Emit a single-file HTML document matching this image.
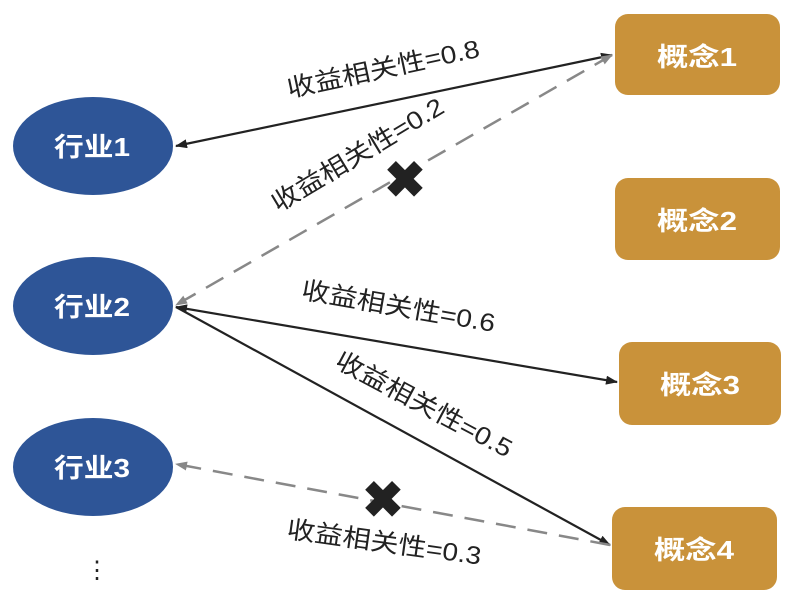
<!DOCTYPE html>
<html><head><meta charset="utf-8"><style>
body{margin:0;background:#fff;}
svg text{font-family:"Liberation Sans","Noto Sans CJK SC",sans-serif;}
</style></head><body>
<svg width="789" height="597" viewBox="0 0 789 597" xmlns="http://www.w3.org/2000/svg">
<defs>
<marker id="ab" markerWidth="12" markerHeight="9" refX="11" refY="4.5" orient="auto-start-reverse" markerUnits="userSpaceOnUse"><path d="M0,0 L12,4.5 L0,9 Z" fill="#222"/></marker>
<marker id="ag" markerWidth="12" markerHeight="9" refX="11" refY="4.5" orient="auto-start-reverse" markerUnits="userSpaceOnUse"><path d="M0,0 L12,4.5 L0,9 Z" fill="#888"/></marker>
</defs>
<g fill="#2E5597">
<ellipse cx="93" cy="146" rx="80" ry="49"/>
<ellipse cx="93" cy="306" rx="80" ry="49"/>
<ellipse cx="93" cy="467" rx="80" ry="49"/>
</g>
<g fill="#fff" font-size="26" font-weight="bold" text-anchor="middle">
<text x="92" y="156" textLength="76" lengthAdjust="spacingAndGlyphs">行业1</text>
<text x="92" y="316" textLength="76" lengthAdjust="spacingAndGlyphs">行业2</text>
<text x="92" y="477" textLength="76" lengthAdjust="spacingAndGlyphs">行业3</text>
</g>
<text x="97" y="578" font-size="24" text-anchor="middle" fill="#222">⋮</text>
<g fill="#C9923A">
<rect x="615" y="14" width="165" height="81" rx="13"/>
<rect x="615" y="178" width="165" height="82" rx="13"/>
<rect x="619" y="342" width="162" height="83" rx="13"/>
<rect x="612" y="507" width="165" height="83" rx="13"/>
</g>
<g fill="#fff" font-size="26" font-weight="bold" text-anchor="middle">
<text x="697" y="66" textLength="80" lengthAdjust="spacingAndGlyphs">概念1</text>
<text x="697" y="230" textLength="80" lengthAdjust="spacingAndGlyphs">概念2</text>
<text x="700" y="394" textLength="80" lengthAdjust="spacingAndGlyphs">概念3</text>
<text x="694" y="559" textLength="80" lengthAdjust="spacingAndGlyphs">概念4</text>
</g>
<line x1="176" y1="146" x2="612" y2="55" stroke="#222" stroke-width="2.2" marker-start="url(#ab)" marker-end="url(#ab)"/>
<line x1="612" y1="55" x2="176" y2="305" stroke="#888" stroke-width="2.5" stroke-dasharray="20,12" marker-start="url(#ag)" marker-end="url(#ag)"/>
<line x1="176" y1="307" x2="617" y2="382" stroke="#222" stroke-width="2.2" marker-start="url(#ab)" marker-end="url(#ab)"/>
<line x1="176" y1="307" x2="610" y2="545" stroke="#222" stroke-width="2.2" marker-end="url(#ab)"/>
<line x1="610" y1="545" x2="176" y2="464" stroke="#888" stroke-width="2.5" stroke-dasharray="20,12" marker-end="url(#ag)"/>
<g fill="#222" font-size="50" font-weight="bold" text-anchor="middle">
<text x="405" y="197">✖</text>
<text x="383" y="517">✖</text>
</g>
<g fill="#222" font-size="25" text-anchor="middle">
<text transform="translate(385,77) rotate(-12)" textLength="196" lengthAdjust="spacingAndGlyphs">收益相关性=0.8</text>
<text transform="translate(362,162) rotate(-31)" textLength="196" lengthAdjust="spacingAndGlyphs">收益相关性=0.2</text>
<text transform="translate(397,315) rotate(10)" textLength="196" lengthAdjust="spacingAndGlyphs">收益相关性=0.6</text>
<text transform="translate(420,412) rotate(28)" textLength="196" lengthAdjust="spacingAndGlyphs">收益相关性=0.5</text>
<text transform="translate(383,551) rotate(8)" textLength="196" lengthAdjust="spacingAndGlyphs">收益相关性=0.3</text>
</g>
</svg>
</body></html>
